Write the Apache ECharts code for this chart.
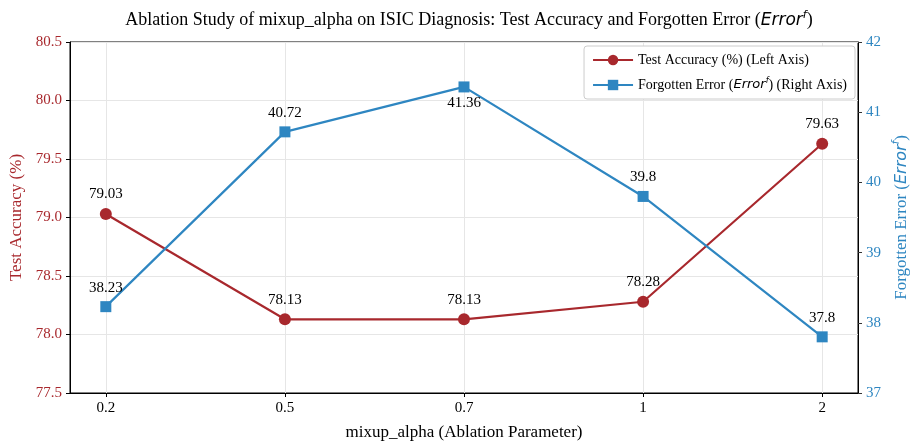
<!DOCTYPE html>
<html><head><meta charset="utf-8">
<script src="https://cdn.jsdelivr.net/npm/echarts@6/dist/echarts.min.js"></script>
<style>html,body{margin:0;padding:0;background:#fff}#c{width:910px;height:445px}</style>
</head><body><div id="c"></div>
<script>
const categories = ['0.2', '0.5', '0.7', '1', '2'];
const testAccuracy = [79.03, 78.13, 78.13, 78.28, 79.63];
const forgottenError = [38.23, 40.72, 41.36, 39.8, 37.8];
const leftTicks = [77.5, 78.0, 78.5, 79.0, 79.5, 80.0, 80.5];
const rightTicks = [37, 38, 39, 40, 41, 42];

const RED = '#a8282d', BLUE = '#2e86c1';
const SERIF = 'Liberation Serif';
const idx = categories.map((c, i) => i);

const chart = echarts.init(document.getElementById('c'));
chart.setOption({
  animation: false,
  title: {
    text: 'Ablation Study of mixup_alpha on ISIC Diagnosis: Test Accuracy and Forgotten Error ({it|Error}{sup|f})',
    left: 464, top: 5, textAlign: 'center',
    textStyle: { fontFamily: SERIF, fontWeight: 'normal', fontSize: 18, color: '#000',
      rich: { it: { fontFamily: 'DejaVu Sans', fontStyle: 'italic', fontSize: 17, color: '#000' },
              sup: { fontFamily: 'DejaVu Sans', fontStyle: 'italic', fontSize: 11, color: '#000', padding: [0,0,10,0] } } }
  },
  grid: { left: 70, right: 52, top: 42, bottom: 52, outerBoundsMode: 'none', containLabel: false,
    show: true, borderColor: '#000', borderWidth: 1 },
  legend: {
    right: 55, top: 46, orient: 'vertical', itemGap: 10, itemWidth: 40, itemHeight: 13,
    backgroundColor: '#fff', borderColor: '#ccc', borderWidth: 1, borderRadius: 3, padding: [7, 8, 7, 8],
    textStyle: { fontFamily: SERIF, fontSize: 14, color: '#000',
      rich: { n: { fontFamily: SERIF, fontSize: 14 }, it: { fontFamily: 'DejaVu Sans', fontStyle: 'italic', fontSize: 13 },
              sup: { fontFamily: 'DejaVu Sans', fontStyle: 'italic', fontSize: 8, padding: [0,0,8,0] } } },
    formatter: function (n) {
      if (n.indexOf('Forgotten') === 0) return '{n|Forgotten Error (}{it|Error}{sup|f}{n|) (Right Axis)}';
      return n;
    },
    data: ['Test Accuracy (%) (Left Axis)', 'Forgotten Error (Right Axis)']
  },
  xAxis: {
    type: 'value', min: -0.2, max: 4.2,
    name: 'mixup_alpha (Ablation Parameter)', nameLocation: 'middle', nameGap: 31,
    nameTextStyle: { fontFamily: SERIF, fontSize: 17, color: '#000' },
    axisLine: { show: true, onZero: false, lineStyle: { color: '#000' } },
    axisTick: { show: true, inside: false, length: 4, lineStyle: { color: '#000' }, customValues: idx },
    axisLabel: { customValues: idx, fontFamily: SERIF, fontSize: 15, color: '#000', margin: 8,
      formatter: v => categories[Math.round(v)] },
    splitLine: { show: true, lineStyle: { color: '#e6e6e6', width: 1 } }
  },
  yAxis: [{
    type: 'value', min: 77.5, max: 80.5, interval: 0.5, position: 'left',
    name: 'Test Accuracy (%)', nameLocation: 'middle', nameGap: 44, nameRotate: 90,
    nameTextStyle: { fontFamily: SERIF, fontSize: 17, color: RED },
    axisLine: { show: true, onZero: false, lineStyle: { color: '#000' } },
    axisTick: { show: true, inside: false, length: 4, lineStyle: { color: '#000' } },
    axisLabel: { fontFamily: SERIF, fontSize: 15, color: RED, formatter: v => v.toFixed(1) },
    splitLine: { show: true, lineStyle: { color: '#e6e6e6', width: 1 } }
  }, {
    type: 'value', min: 37, max: 42, interval: 1, position: 'right',
    name: 'Forgotten Error ({it|Error}{sup|f})', nameLocation: 'middle', nameGap: 31, nameRotate: 90,
    nameTextStyle: { fontFamily: SERIF, fontSize: 17, color: BLUE,
      rich: { it: { fontFamily: 'DejaVu Sans', fontStyle: 'italic', fontSize: 16, color: BLUE },
              sup: { fontFamily: 'DejaVu Sans', fontStyle: 'italic', fontSize: 10, color: BLUE, padding: [0,0,9,0] } } },
    axisLine: { show: true, onZero: false, lineStyle: { color: '#000' } },
    axisTick: { show: true, inside: false, length: 4, lineStyle: { color: '#333' } },
    axisLabel: { fontFamily: SERIF, fontSize: 15, color: BLUE },
    splitLine: { show: false }
  }],
  series: [{
    name: 'Test Accuracy (%) (Left Axis)', type: 'line', yAxisIndex: 0,
    data: testAccuracy.map((v, i) => [i, v]),
    symbol: 'circle', symbolSize: 12,
    lineStyle: { color: RED, width: 2.2 }, itemStyle: { color: RED },
    label: { show: true, position: 'top', distance: 6, fontFamily: SERIF, fontSize: 15, color: '#000',
      formatter: p => String(p.value[1]) },
    z: 3
  }, {
    name: 'Forgotten Error (Right Axis)', type: 'line', yAxisIndex: 1,
    data: forgottenError.map((v, i) => ({ value: [i, v],
      label: i === 2 ? { position: 'bottom', distance: 3 } : undefined })),
    symbol: 'rect', symbolSize: 11,
    lineStyle: { color: BLUE, width: 2.2 }, itemStyle: { color: BLUE },
    label: { show: true, position: 'top', distance: 6, fontFamily: SERIF, fontSize: 15, color: '#000',
      formatter: p => String(p.value[1]) },
    z: 3
  }]
});
</script></body></html>
